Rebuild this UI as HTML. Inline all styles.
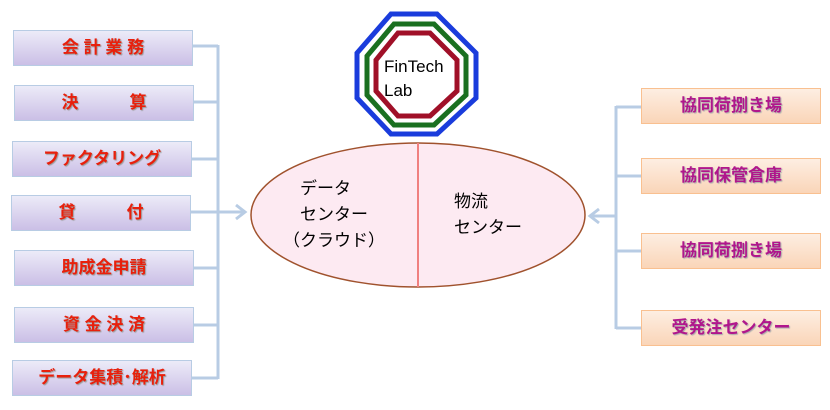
<!DOCTYPE html>
<html><head><meta charset="utf-8"><style>
body{margin:0;width:830px;height:410px;background:#fff;position:relative;overflow:hidden;font-family:"Liberation Sans","Noto Sans CJK JP",sans-serif}
.l{position:absolute;width:178px;height:34px;border:1px solid #b8cce4;background:linear-gradient(#ecebf8,#cbbfe6);color:#e8200c;font-weight:bold;font-size:17px;text-align:center;line-height:34px;text-shadow:1px 1px 1px #999}
.r{position:absolute;left:641px;width:178px;height:34px;border:1px solid #f9c090;background:linear-gradient(#fdeee2,#fad5b8);color:#b0168c;font-weight:bold;font-size:17px;text-align:center;line-height:34px;text-shadow:1px 1px 1px #aaa}
.t{position:absolute;font-size:17px;color:#000;white-space:nowrap}
</style></head><body>
<svg width="830" height="410" style="position:absolute;left:0;top:0">
<g stroke="#b8cce4" stroke-width="3" fill="none">
<path d="M193 46H218M194 102H218M192 159H218M194 268H218M194 325H218M192 378H218M218 45V379"/>
<path d="M191 212H245M236 205L245 212L236 219"/>
<path d="M641 107H616M641 176H616M641 251H616M641 328H616M616 106V329"/>
<path d="M616 216H590M599 209L590 216L599 223"/>
</g>
<ellipse cx="418" cy="215" rx="167" ry="72" fill="#fdeaf2" stroke="#a0522d" stroke-width="1.5"/>
<line x1="418" y1="143" x2="418" y2="287" stroke="#f08080" stroke-width="2"/>
<polygon points="391,14 437,14 476,53 476,98 437,134 391,134 357,98 357,53" fill="#fff" stroke="#1a3cdc" stroke-width="5"/>
<polygon points="394,24 434,24 466,56 466,95 434,125 394,125 367,95 367,56" fill="#fff" stroke="#1a7020" stroke-width="5"/>
<polygon points="398,33 430,33 457,60 457,91 430,116 398,116 376,91 376,60" fill="#fff" stroke="#a01028" stroke-width="5"/>
<text x="384" y="72" font-family="Liberation Sans, sans-serif" font-size="17">FinTech</text>
<text x="384" y="96" font-family="Liberation Sans, sans-serif" font-size="17">Lab</text>
</svg>
<div class="l" style="left:13px;top:30px">会 計 業 務</div>
<div class="l" style="left:14px;top:85px">決　　　算</div>
<div class="l" style="left:12px;top:141px">ファクタリング</div>
<div class="l" style="left:11px;top:195px">貸　　　付</div>
<div class="l" style="left:14px;top:250px">助成金申請</div>
<div class="l" style="left:14px;top:307px">資 金 決 済</div>
<div class="l" style="left:12px;top:360px">データ集積･解析</div>
<div class="r" style="top:88px">協同荷捌き場</div>
<div class="r" style="top:158px">協同保管倉庫</div>
<div class="r" style="top:233px">協同荷捌き場</div>
<div class="r" style="top:310px">受発注センター</div>
<div class="t" style="left:300px;top:174px">データ</div>
<div class="t" style="left:300px;top:200px">センター</div>
<div class="t" style="left:283px;top:226px">（クラウド）</div>
<div class="t" style="left:454px;top:187px">物流</div>
<div class="t" style="left:454px;top:213px">センター</div>
</body></html>
